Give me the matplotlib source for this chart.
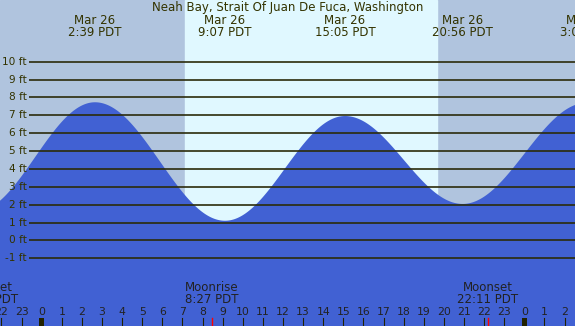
import numpy as np
import matplotlib
matplotlib.use("Agg")
import matplotlib.pyplot as plt
from matplotlib.patches import Rectangle

# ---- data (hours relative to midnight Mar 26, heights in ft) ----
extreme_hours = [-3.3, 2.65, 9.117, 15.083, 20.933, 27.1]
extreme_heights = [1.6, 7.73, 1.10, 6.96, 2.04, 7.70]
label_hours = [2.65, 9.117, 15.083, 20.933, 27.1]
label_texts = ["Mar 26\n2:39 PDT", "Mar 26\n9:07 PDT", "Mar 26\n15:05 PDT",
               "Mar 26\n20:56 PDT", "Mar 27\n3:05 PDT"]
sunrise_hour = 7.13
sunset_hour = 19.67
moon_hours = [-2.68, 8.45, 22.183]
moon_texts = ["Moonset\n21:19 PDT", "Moonrise\n8:27 PDT", "Moonset\n22:11 PDT"]
ft_levels = list(range(-1, 11))
hour_ticks = list(range(-2, 27))
title = "Neah Bay, Strait Of Juan De Fuca, Washington"

# ---- style ----
NIGHT = "#B0C4DE"
DAY = "#E0F8FF"
WATER = "#4161D3"
INK = "#333300"
LINE = "#2B2B0B"

W, H = 575, 326
fig = plt.figure(figsize=(W / 100, H / 100), dpi=100)
ax = fig.add_axes([0, 0, 1, 1])
px_per_hr = 20.11
x0_hr = -41.7 / px_per_hr
x1_hr = x0_hr + W / px_per_hr
px_per_ft = 17.87
y_top = 240.4 / px_per_ft
y_bot = -(H - 240.4) / px_per_ft
ax.set_xlim(x0_hr, x1_hr)
ax.set_ylim(y_bot, y_top)
ax.axis("off")

def ypx(p):
    """pixel row from top -> data y"""
    return y_top - p / px_per_ft

# background
ax.add_patch(Rectangle((x0_hr, y_bot), x1_hr - x0_hr, y_top - y_bot, color=NIGHT, zorder=0))
ax.add_patch(Rectangle((sunrise_hour, y_bot), sunset_hour - sunrise_hour, y_top - y_bot,
                       color=DAY, zorder=0.5))

# tide curve: cosine between extremes
t = np.linspace(x0_hr, x1_hr, 1200)
h = np.empty_like(t)
for i in range(len(extreme_hours) - 1):
    ta, tb = extreme_hours[i], extreme_hours[i + 1]
    ha, hb = extreme_heights[i], extreme_heights[i + 1]
    m = (t >= ta) & (t <= tb)
    f = (1 - np.cos(np.pi * (t[m] - ta) / (tb - ta))) / 2
    h[m] = ha + (hb - ha) * f
ax.fill_between(t, y_bot, h, color=WATER, lw=0, zorder=1)

# horizontal lines
x_line_start = x0_hr + 29 / px_per_hr
for lv in ft_levels:
    ax.plot([x_line_start, x1_hr], [lv, lv], color=LINE, lw=1.2, zorder=2,
            solid_capstyle="butt")
    ax.text(x0_hr + 27 / px_per_hr, lv, f"{lv} ft", ha="right", va="center",
            fontsize=7.6, color=INK, zorder=3)

# title and extreme labels
fs = 8.5
ax.text(0.5 * (x0_hr + x1_hr), ypx(7.5), title, ha="center", va="center",
        fontsize=fs, color=INK, zorder=3)
for hr, txt in zip(label_hours, label_texts):
    l1, l2 = txt.split("\n")
    ax.text(hr, ypx(20), l1, ha="center", va="center", fontsize=fs, color=INK, zorder=3)
    ax.text(hr, ypx(32), l2, ha="center", va="center", fontsize=fs, color=INK, zorder=3)

# moon labels
for hr, txt in zip(moon_hours, moon_texts):
    l1, l2 = txt.split("\n")
    ax.text(hr, ypx(287.5), l1, ha="center", va="center", fontsize=fs, color="#222222", zorder=3)
    ax.text(hr, ypx(299.5), l2, ha="center", va="center", fontsize=fs, color="#222222", zorder=3)
    ax.plot([hr, hr], [y_bot, ypx(318)], color="red", lw=1.0, zorder=3)

# hour ticks
for hr in hour_ticks:
    lab = str(hr % 24)
    ax.text(hr, ypx(312), lab, ha="center", va="center", fontsize=7.8,
            color="#222222", zorder=3)
    if hr % 24 == 0:
        ax.add_patch(Rectangle((hr - 2.5 / px_per_hr, y_bot), 5 / px_per_hr, 8 / px_per_ft,
                               color="#222200", zorder=3, lw=0))
    else:
        ax.plot([hr, hr], [y_bot, ypx(318)], color="#222200", lw=0.8, zorder=3)

fig.savefig("out.png", dpi=100)
